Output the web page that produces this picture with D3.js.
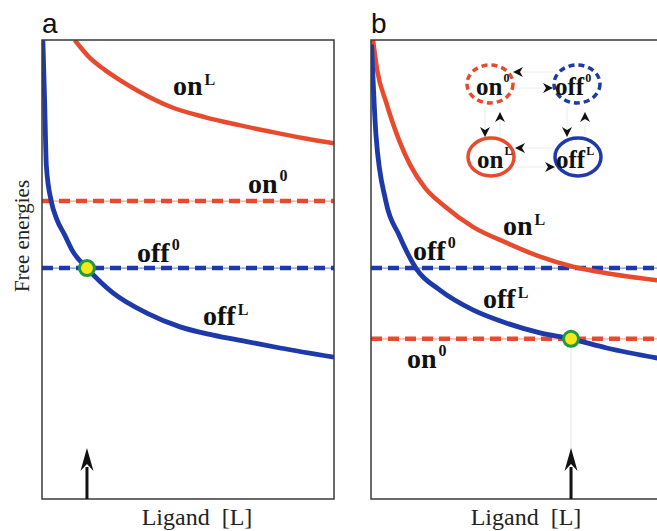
<!DOCTYPE html>
<html>
<head>
<meta charset="utf-8">
<script src="https://cdn.jsdelivr.net/npm/d3@7"></script>
<style>
  body { margin: 0; background: #fff; }
</style>
</head>
<body>
<svg id="energy-plot" width="657" height="531"></svg>
<script>
// Values: ligand and free energy both in % of the axis
const offLA_x = [0.3, 0.9, 1.5, 3.2, 4.9, 7.8, 10.6, 15.4, 24.3, 35.9, 47.3, 58.6, 70.1, 81.5, 100];
const offLA_y = [100, 86.6, 72.5, 64.8, 61.2, 57.5, 53.9, 50.3, 44.9, 40.5, 37.5, 35.7, 34.3, 32.9, 30.9];
const onLA_x = [11.2, 16.4, 21.5, 27.1, 32.9, 44.2, 55.7, 67.1, 78.4, 89.7, 100];
const onLA_y = [100, 96.1, 93.5, 91.1, 88.9, 85.4, 83.2, 81.5, 80.0, 78.6, 77.5];
const offLB_x = [0.2, 1.7, 5.1, 9.6, 15.6, 23.6, 34.9, 46.5, 57.9, 68.5, 80.7, 100];
const offLB_y = [99, 79.3, 64.8, 57.5, 50.1, 45.5, 41.2, 38.3, 36.2, 34.9, 32.9, 30.5];
const onLB_x = [0.7, 2.1, 5.1, 9.6, 13.4, 18.5, 25.0, 34.9, 46.5, 57.9, 69.2, 80.7, 100];
const onLB_y = [100, 93.5, 86.6, 78.2, 72.8, 67.8, 63.9, 59.3, 55.8, 52.8, 50.6, 49.2, 47.5];
const offZero = [50.3, 50.3];     // panel a, panel b
const onZero = [64.9, 34.9];      // panel a, panel b
const crossingL = [15.4, 68.5];   // ligand at the yellow point
const crossingE = [50.3, 34.9];
const panelNames = ["a", "b"];

// Settings
const red = "#e84a2d";
const blue = "#1d3aa8";
const serif = "'Liberation Serif', 'Times New Roman', serif";
const svg = d3.select("#energy-plot");
const margin = { top: 40, left: [42, 371] };
const innerWidth = 292;
const innerHeight = 459;

const zip = (xs, ys) => xs.map((x, i) => [x, ys[i]]);
const curves = [
  { off: zip(offLA_x, offLA_y), on: zip(onLA_x, onLA_y) },
  { off: zip(offLB_x, offLB_y), on: zip(onLB_x, onLB_y) },
];

const xScale = d3.scaleLinear().domain([0, 100]).range([0, innerWidth]);
const yScale = d3.scaleLinear().domain([0, 100]).range([innerHeight, 0]);

const lineGenerator = d3
  .line()
  .x((d) => xScale(d[0]))
  .y((d) => yScale(d[1]))
  .curve(d3.curveMonotoneX);

svg.append("defs")
  .append("clipPath")
  .attr("id", "plot-clip")
  .append("rect")
  .attr("width", innerWidth)
  .attr("height", innerHeight);

// superscripted label like on^L
const label = (g, x, y, base, sup, size, supSize, supDy) => {
  const t = g.append("text")
    .attr("x", x).attr("y", y)
    .attr("font-family", serif)
    .attr("font-size", size)
    .attr("font-weight", "bold")
    .attr("fill", "#111");
  t.append("tspan").text(base);
  t.append("tspan").attr("font-size", supSize).attr("dx", 2).attr("dy", supDy).text(sup);
};

const arrowHead = (g, x, y, angle, len, half) => {
  g.append("path")
    .attr("d", `M0,0 L${-len},${-half} L${-len * 0.7},0 L${-len},${half} Z`)
    .attr("transform", `translate(${x},${y}) rotate(${angle})`)
    .attr("fill", "#111");
};

panelNames.forEach((name, i) => {
  const g = svg.append("g").attr("transform", `translate(${margin.left[i]},${margin.top})`);
  const plot = g.append("g").attr("clip-path", "url(#plot-clip)");

  // dashed levels (thin lighter core under the dashes)
  [[onZero[i], red, "#f3a393"], [offZero[i], blue, "#7f90d8"]].forEach(([lvl, c, light]) => {
    plot.append("line")
      .attr("x1", 0).attr("x2", innerWidth)
      .attr("y1", yScale(lvl)).attr("y2", yScale(lvl))
      .attr("stroke", light).attr("stroke-width", 1.2);
    plot.append("line")
      .attr("x1", 0).attr("x2", innerWidth)
      .attr("y1", yScale(lvl)).attr("y2", yScale(lvl))
      .attr("stroke", c).attr("stroke-width", 4.5)
      .attr("stroke-dasharray", "11 6");
  });

  plot.append("path").attr("d", lineGenerator(curves[i].on))
    .attr("fill", "none").attr("stroke", red).attr("stroke-width", 4.5);
  plot.append("path").attr("d", lineGenerator(curves[i].off))
    .attr("fill", "none").attr("stroke", blue).attr("stroke-width", 4.8);

  // frame
  g.append("rect")
    .attr("width", innerWidth).attr("height", innerHeight)
    .attr("fill", "none").attr("stroke", "#3a3a3a").attr("stroke-width", 1.5);

  // faint guide from the crossing down to the arrow
  if (i === 1) {
    g.append("line")
      .attr("x1", xScale(crossingL[i])).attr("x2", xScale(crossingL[i]))
      .attr("y1", yScale(crossingE[i])).attr("y2", innerHeight - 50)
      .attr("stroke", "#e6e6e6").attr("stroke-width", 1);
  }

  g.append("circle")
    .attr("cx", xScale(crossingL[i])).attr("cy", yScale(crossingE[i]))
    .attr("r", 7.5)
    .attr("fill", "#f4e81a").attr("stroke", "#1f9a3e").attr("stroke-width", 3);

  // ligand arrow
  const ax = xScale(crossingL[i]);
  g.append("line")
    .attr("x1", ax).attr("x2", ax)
    .attr("y1", innerHeight).attr("y2", innerHeight - 32)
    .attr("stroke", "#111").attr("stroke-width", 3);
  arrowHead(g, ax, innerHeight - 51, -90, 23, 6.5);

  // panel letter and axis title
  g.append("text")
    .attr("x", 0).attr("y", -7)
    .attr("font-size", 28)
    .attr("font-family", "'Liberation Sans', Arial, sans-serif")
    .attr("fill", "#111")
    .text(name);
  g.append("text")
    .attr("x", 155).attr("y", innerHeight + 26)
    .attr("text-anchor", "middle")
    .attr("font-family", serif)
    .attr("font-size", 24)
    .attr("fill", "#222")
    .style("white-space", "pre")
    .text("Ligand  [L]");
});

svg.append("text")
  .attr("transform", "translate(29,236) rotate(-90)")
  .attr("text-anchor", "middle")
  .attr("font-family", serif)
  .attr("font-size", 21)
  .attr("fill", "#222")
  .text("Free energies");

// curve labels
label(svg, 173, 95, "on", "L", 28, 16, -10);
label(svg, 248, 193, "on", "0", 28, 16, -12);
label(svg, 137, 262, "off", "0", 28, 16, -12);
label(svg, 203, 325, "off", "L", 28, 16, -10);
label(svg, 503, 235, "on", "L", 28, 16, -10);
label(svg, 413, 260, "off", "0", 28, 16, -12);
label(svg, 483, 308, "off", "L", 28, 16, -10);
label(svg, 407, 368, "on", "0", 28, 16, -12);

// scheme of the four states
const scheme = svg.append("g");
const states = [
  { cx: 490, cy: 84, c: red, dash: "6 4", base: "on", sup: "0" },
  { cx: 577, cy: 84, c: blue, dash: "6 4", base: "off", sup: "0" },
  { cx: 491, cy: 157, c: red, dash: null, base: "on", sup: "L" },
  { cx: 578, cy: 157, c: blue, dash: null, base: "off", sup: "L" },
];
[[513, 72, 553, 72], [513, 88, 553, 88], [515, 148, 555, 148], [515, 167, 555, 167],
 [485, 107, 485, 137], [500, 112, 500, 140], [567, 107, 567, 137], [585, 112, 585, 140]]
  .forEach(([x1, y1, x2, y2]) => {
    scheme.append("line").attr("x1", x1).attr("y1", y1).attr("x2", x2).attr("y2", y2)
      .attr("stroke", "#ececec").attr("stroke-width", 1);
  });
states.forEach((s) => {
  scheme.append("ellipse")
    .attr("cx", s.cx).attr("cy", s.cy).attr("rx", 23).attr("ry", 19)
    .attr("fill", "#fff").attr("stroke", s.c).attr("stroke-width", 3.5)
    .attr("stroke-dasharray", s.dash);
  const t = scheme.append("text")
    .attr("x", s.cx - (s.base === "on" ? 14 : 22)).attr("y", s.cy + 11)
    .attr("font-family", serif)
    .attr("font-size", 25).attr("font-weight", "bold").attr("fill", "#111");
  t.append("tspan").text(s.base);
  t.append("tspan").attr("font-size", 12).attr("dx", 1).attr("dy", -13).text(s.sup);
});
arrowHead(scheme, 513, 72, 180, 10, 5);
arrowHead(scheme, 553, 88, 0, 10, 5);
arrowHead(scheme, 485, 137, 90, 10, 5);
arrowHead(scheme, 500, 112, -90, 10, 5);
arrowHead(scheme, 567, 137, 90, 10, 5);
arrowHead(scheme, 585, 112, -90, 10, 5);
arrowHead(scheme, 515, 148, 180, 10, 5);
arrowHead(scheme, 555, 167, 0, 10, 5);
</script>
</body>
</html>
